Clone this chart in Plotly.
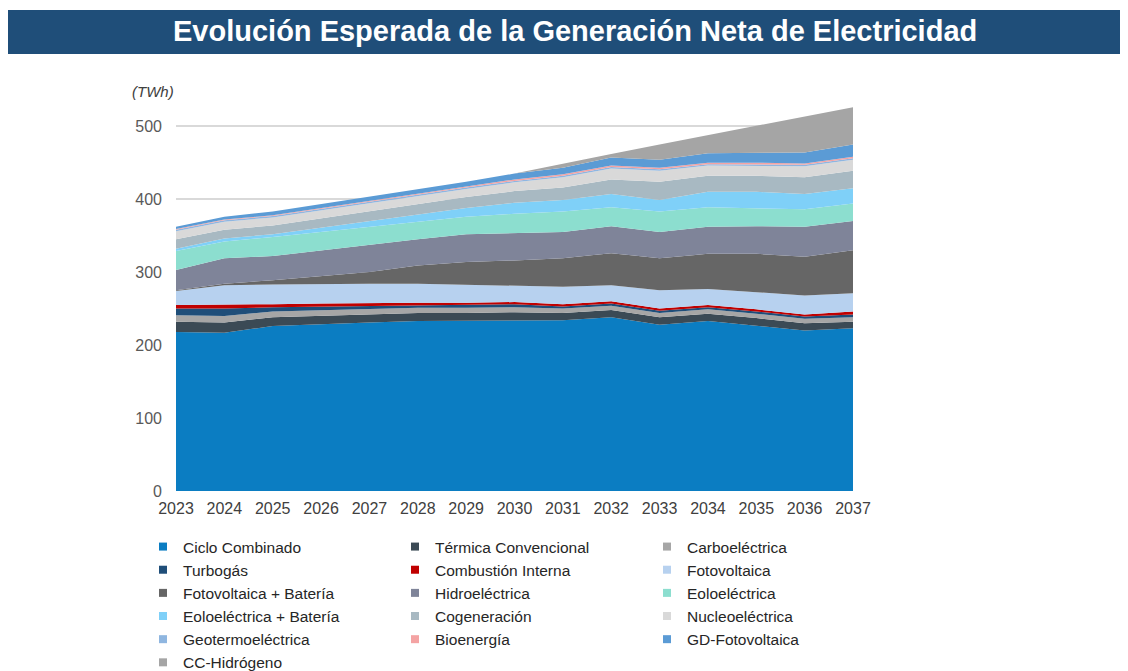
import plotly.graph_objects as go

years = list(range(2023, 2038))

ciclo_combinado = [218, 217, 226, 229, 231, 233, 233, 234, 234, 238, 228, 233, 227, 220, 223]
termica_convencional = [14, 14, 12, 11, 11, 11, 11, 11, 10, 10, 10, 10, 10, 10, 9]
carboelectrica = [9, 9, 8, 8, 8, 7, 7, 7, 6, 6, 6, 6, 6, 6, 6]
turbogas = [9, 10, 6, 5, 4, 4, 4, 4, 3, 3, 3, 3, 3, 3, 4]
combustion_interna = [5, 5, 4, 4, 4, 3, 3, 3, 3, 3, 3, 3, 3, 3, 4]
fotovoltaica = [19, 27, 27, 27, 26, 26, 25, 23, 24, 22, 25, 22, 24, 26, 25]
fotovoltaica_bateria = [1, 2, 6, 11, 16, 25, 31, 34, 39, 44, 44, 48, 52, 53, 59]
hidroelectrica = [28, 35, 33, 35, 37, 36, 38, 38, 36, 37, 36, 37, 38, 41, 40]
eoloelectrica = [26, 23, 26, 25, 25, 24, 24, 26, 28, 26, 28, 27, 24, 24, 24]
eoloelectrica_bateria = [3, 4, 4, 6, 8, 10, 12, 15, 16, 18, 16, 21, 23, 21, 21]
cogeneracion = [13, 12, 12, 13, 13, 14, 15, 16, 17, 20, 25, 22, 22, 23, 24]
nucleoelectrica = [11, 11, 11, 11, 11, 11, 11, 12, 14, 15, 15, 14, 14, 15, 15]
geotermoelectrica = [2, 2, 2, 2, 2, 2, 2, 2, 2, 2, 2, 2, 2, 2, 2]
bioenergia = [1, 1, 1, 1, 1, 1, 1, 2, 2, 2, 2, 2, 2, 2, 2]
gd_fotovoltaica = [3, 4, 5, 5, 6, 6, 7, 8, 9, 11, 11, 13, 13, 15, 17]
cc_hidrogeno = [0, 0, 0, 0, 0, 0, 0, 0, 6, 5, 21, 25, 37, 49, 51]

series = [
    ("Ciclo Combinado", ciclo_combinado, "#0b7dc2"),
    ("Térmica Convencional", termica_convencional, "#3b4a55"),
    ("Carboeléctrica", carboelectrica, "#a6a6a6"),
    ("Turbogás", turbogas, "#1f4e79"),
    ("Combustión Interna", combustion_interna, "#c00000"),
    ("Fotovoltaica", fotovoltaica, "#b7d1ef"),
    ("Fotovoltaica + Batería", fotovoltaica_bateria, "#666666"),
    ("Hidroeléctrica", hidroelectrica, "#7f8499"),
    ("Eoloeléctrica", eoloelectrica, "#8cdecf"),
    ("Eoloeléctrica + Batería", eoloelectrica_bateria, "#7fd0f8"),
    ("Cogeneración", cogeneracion, "#a8b9c2"),
    ("Nucleoeléctrica", nucleoelectrica, "#d9d9d9"),
    ("Geotermoeléctrica", geotermoelectrica, "#8fb6e0"),
    ("Bioenergía", bioenergia, "#f4a3a3"),
    ("GD-Fotovoltaica", gd_fotovoltaica, "#5b9bd5"),
    ("CC-Hidrógeno", cc_hidrogeno, "#a5a5a5"),
]

# the page body has an 8px margin, so the figure is drawn 8px in from the corner
OFF = 8
W, H = 1128 - OFF, 671 - OFF
plot_l, plot_r, plot_t, plot_b = 176 - OFF, 853 - OFF, 97 - OFF, 491 - OFF


def px_x(px):
    """ screen pixel -> paper x """
    return (px - OFF - plot_l) / (plot_r - plot_l)


def px_y(py):
    """ screen pixel -> paper y """
    return (plot_b - (py - OFF)) / (plot_b - plot_t)


fig = go.Figure()

# stacked areas
for name, vals, color in series:
    fig.add_trace(go.Scatter(x=years, y=vals, name=name, stackgroup="gen",
                             mode="lines", line=dict(width=0, color=color),
                             fillcolor=color, showlegend=False,
                             hovertemplate="<b>" + name + "</b>: %{y} TWh<extra></extra>"))

# small square legend keys
for name, vals, color in series:
    fig.add_trace(go.Scatter(x=[None], y=[None], name=name, mode="markers",
                             marker=dict(symbol="square", size=8, color=color)))

fig.update_layout(width=W, height=H,
                  margin=dict(l=plot_l, r=W - plot_r, t=plot_t, b=H - plot_b,
                              pad=0, autoexpand=False),
                  paper_bgcolor="white", plot_bgcolor="white",
                  font=dict(family="Liberation Sans, Arial, sans-serif", color="#404040"),
                  xaxis=dict(range=[2023, 2037], tickvals=years, showgrid=False,
                             zeroline=False, showline=False, ticks="",
                             ticklabelstandoff=6,
                             tickfont=dict(size=16, color="#404040")),
                  yaxis=dict(range=[0, 540], tickvals=[0, 100, 200, 300, 400, 500],
                             showgrid=True, gridcolor="#d9d9d9", gridwidth=1.5,
                             zeroline=False, showline=False, ticks="",
                             ticklabelstandoff=13,
                             tickfont=dict(size=16, color="#595959")),
                  legend=dict(orientation="h", traceorder="normal",
                              x=px_x(143), xanchor="left",
                              y=px_y(530), yanchor="top",
                              entrywidth=207, entrywidthmode="pixels",
                              itemwidth=30, tracegroupgap=0,
                              font=dict(size=15.5, color="#262626")),
                  showlegend=True)

# title banner
fig.add_shape(type="rect", xref="paper", yref="paper",
              x0=px_x(4), x1=px_x(1124), y0=px_y(54), y1=px_y(10),
              fillcolor="#1f4e79", line=dict(width=0), layer="below")
fig.add_annotation(text="<b>Evolución Esperada de la Generación Neta de Electricidad</b>",
                   xref="paper", yref="paper", x=px_x(575), y=px_y(31),
                   xanchor="center", yanchor="middle", showarrow=False,
                   font=dict(size=29, color="white"))
fig.add_annotation(text="<i>(TWh)</i>", xref="paper", yref="paper",
                   x=px_x(130), y=px_y(91), xanchor="left", yanchor="middle",
                   showarrow=False, font=dict(size=15, color="#404040"))

fig.write_html("out.html")
